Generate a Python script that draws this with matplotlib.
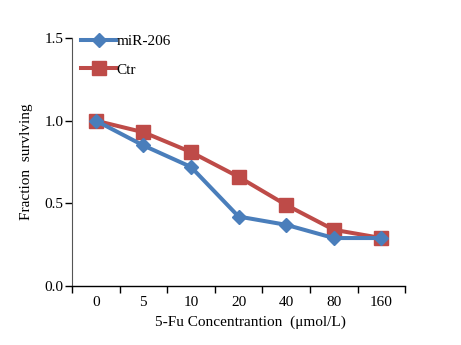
import numpy as np
import matplotlib
matplotlib.use("Agg")
import matplotlib.pyplot as plt

plt.rcParams['font.family'] = ['Liberation Serif', 'DejaVu Serif']

conc = ['0', '5', '10', '20', '40', '80', '160']
mir206 = [1.00, 0.85, 0.72, 0.42, 0.37, 0.29, 0.29]
ctr = [1.00, 0.93, 0.81, 0.66, 0.49, 0.34, 0.29]

blue = '#4a7ebb'
red = '#be4b48'

fig = plt.figure(figsize=(4.61, 3.45), dpi=100)
ax = fig.add_axes([0.156, 0.171, 0.723, 0.719])

x = np.arange(len(conc))
ax.plot(x, mir206, color=blue, lw=2.9, marker='D', ms=7, label='miR-206', zorder=3)
ax.plot(x, ctr, color=red, lw=2.9, marker='s', ms=10, label='Ctr', zorder=2)

ax.set_xlim(-0.5, len(conc) - 0.5)
ax.set_ylim(0, 1.5)

# tick marks sit between categories, labels in the middle
ax.set_xticks(np.arange(-0.5, len(conc)))
ax.set_xticklabels([])
ax.set_xticks(x, minor=True)
ax.set_xticklabels(conc, minor=True)
ax.tick_params(axis='x', which='major', length=5, width=1, direction='out')
ax.tick_params(axis='x', which='minor', length=0, pad=7, labelsize=11)

ax.set_yticks([0, 0.5, 1.0, 1.5])
ax.set_yticklabels(['0.0', '0.5', '1.0', '1.5'])
ax.tick_params(axis='y', length=5, width=1, direction='out', labelsize=11, pad=1)

ax.spines['top'].set_visible(False)
ax.spines['right'].set_visible(False)
ax.spines['left'].set_color('#555555')
ax.spines['left'].set_linewidth(0.8)
ax.spines['bottom'].set_linewidth(1.0)

ax.set_xlabel('5-Fu Concentrantion  (\u03bcmol/L)', fontsize=11, labelpad=4)
ax.xaxis.set_label_coords(0.535, -0.12)
ax.set_ylabel('Fraction  survlving', fontsize=11, labelpad=8)

ax.legend(loc='upper left', bbox_to_anchor=(0.0, 1.05), frameon=False,
          fontsize=11, handlelength=2.3, handletextpad=0.0, labelspacing=0.95,
          borderaxespad=0.2)

fig.savefig('out.png', dpi=100)
